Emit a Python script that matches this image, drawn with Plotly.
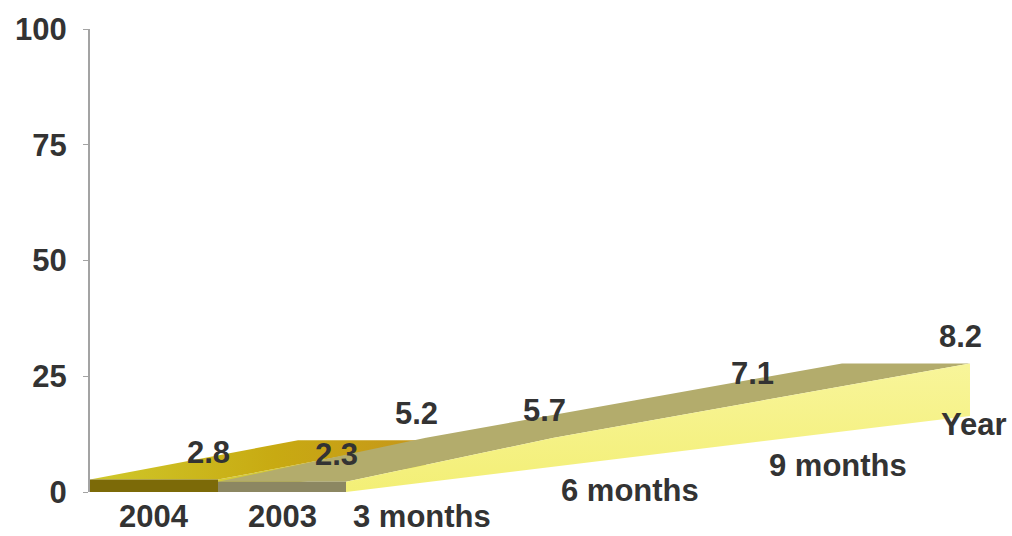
import plotly.graph_objects as go

# ---- data -------------------------------------------------------------
categories = ["3 months", "6 months", "9 months", "Year"]
series_names = ["2004", "2003"]
values_2004 = [2.8, 5.2]
values_2003 = [2.3, 5.7, 7.1, 8.2]
y_ticks = [0, 25, 50, 75, 100]

# ---- oblique 3-D projection of the area ribbons ------------------------
SERIES_W = 128.0     # horizontal width of one series ribbon (x units)
CAT_DX = 208.0       # horizontal step between categories (x units)
CAT_RISE = 5.47      # floor rise per category step (value units)
HEIGHT_K = 0.957     # vertical scale of values at the front row
DEPTH_GAIN = 0.149   # perspective growth of heights per category step


def proj(s, c, v):
    """Project (series edge s, category c, value v) onto the 2-D axes."""
    x = s * SERIES_W + c * CAT_DX
    y = c * CAT_RISE + v * HEIGHT_K * (1 + DEPTH_GAIN * c)
    return x, y


def polygon(points):
    xs = [p[0] for p in points] + [points[0][0]]
    ys = [p[1] for p in points] + [points[0][1]]
    return xs, ys


def front_face(s, vals):
    return polygon([proj(s, 0, 0), proj(s + 1, 0, 0),
                    proj(s + 1, 0, vals[0]), proj(s, 0, vals[0])])


def top_face(s, vals):
    left = [proj(s, c, v) for c, v in enumerate(vals)]
    right = [proj(s + 1, c, v) for c, v in enumerate(vals)]
    return polygon(left + right[::-1])


def side_face(s_edge, vals):
    floor = [proj(s_edge, c, 0) for c in range(len(vals))]
    top = [proj(s_edge, c, v) for c, v in enumerate(vals)]
    return polygon(floor + top[::-1])


def add_poly(fig, xy, color, gradient=None):
    xs, ys = xy
    kw = dict(x=xs, y=ys, mode="lines", fill="toself", fillcolor=color,
              line=dict(width=0), hoverinfo="skip", showlegend=False)
    if gradient is not None:
        kw["fillgradient"] = gradient
    fig.add_trace(go.Scatter(**kw))


fig = go.Figure()

# series 2004 (back ribbon, s = 0..1)
add_poly(fig, side_face(1, values_2004), "#d6cc36")
add_poly(fig, top_face(0, values_2004), "#c8b41a",
         gradient=dict(type="horizontal",
                       colorscale=[[0, "#cfc82a"], [0.55, "#c8aa12"],
                                   [1, "#c6961a"]]))
add_poly(fig, front_face(0, values_2004), "#7c6a08")

# series 2003 (front ribbon, s = 1..2)
add_poly(fig, top_face(1, values_2003), "#b3ac6c")
add_poly(fig, side_face(2, values_2003), "#f5f184",
         gradient=dict(type="vertical",
                       colorscale=[[0, "#f3ef76"], [1, "#f8f59a"]]))
add_poly(fig, front_face(1, values_2003), "#8c8762")

# ---- text --------------------------------------------------------------
FONT = "Liberation Sans, Arial, sans-serif"
TEXT_COLOR = "#333333"
TEXT_SIZE = 31
text_font = dict(family=FONT, size=TEXT_SIZE, color=TEXT_COLOR, weight="bold")
annotations = []

# value labels
for s, vals in enumerate([values_2004, values_2003]):
    for c, v in enumerate(vals):
        x, y = proj(s + 1, c, v)
        annotations.append(dict(
            x=x, y=y, text=f"{v:.1f}", showarrow=False,
            xanchor="center", yanchor="middle", xshift=-10, yshift=27,
            font=text_font))

# series (depth axis) labels
for s, name in enumerate(series_names):
    x, y = proj(s + 0.5, 0, 0)
    annotations.append(dict(
        x=x, y=y, text=name, showarrow=False, borderpad=0,
        xanchor="center", yanchor="middle", yshift=-24,
        font=text_font))

# category labels along the floor edge
n_series = len(series_names)
for c, name in enumerate(categories):
    x, y = proj(n_series, c, 0)
    last = c == len(categories) - 1
    annotations.append(dict(
        x=x, y=y, text=name, showarrow=False, borderpad=0,
        xanchor="right" if last else "left", yanchor="middle",
        xshift=38 if last else 6, yshift=-8 if last else -24,
        font=text_font))

fig.update_layout(
    width=1012, height=536,
    margin=dict(l=90, r=12, t=22, b=44),
    paper_bgcolor="white", plot_bgcolor="white",
    annotations=annotations,
    xaxis=dict(range=[0, 910], visible=False, fixedrange=True),
    yaxis=dict(range=[0, 100], tickvals=y_ticks, showgrid=False,
               zeroline=False, showline=True, linecolor="#a3a3a3",
               linewidth=2, ticks="outside", ticklen=5, tickwidth=1,
               tickcolor="#a3a3a3", ticklabelstandoff=10,
               tickfont=text_font),
)

fig.write_html("out.html")
